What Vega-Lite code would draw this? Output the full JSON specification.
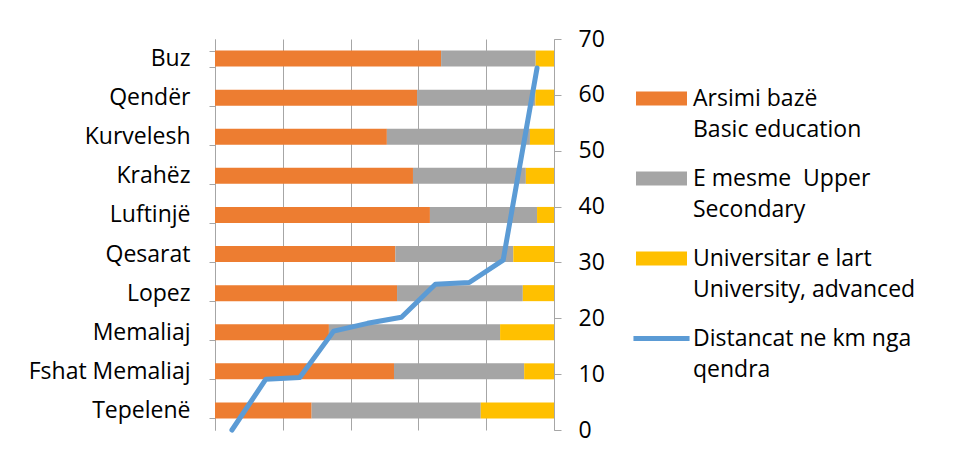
{
  "$schema": "https://vega.github.io/schema/vega-lite/v6.json",
  "width": 339,
  "height": 391,
  "autosize": {"type": "none"},
  "padding": {"left": 215, "top": 39, "right": 399, "bottom": 22},
  "background": "white",
  "config": {
    "font": "Open Sans",
    "view": {"stroke": null},
    "axis": {"labelColor": "#000000", "labelFontSize": 23, "labelFont": "Open Sans"}
  },
  "datasets": {
    "edu": [
      {"place": "Buz", "series": "Arsimi bazë|Basic education", "pct": 66.7},
      {"place": "Buz", "series": "E mesme\u00a0 Upper|Secondary", "pct": 27.9},
      {"place": "Buz", "series": "Universitar e lart|University, advanced", "pct": 5.4},
      {"place": "Qendër", "series": "Arsimi bazë|Basic education", "pct": 59.6},
      {"place": "Qendër", "series": "E mesme\u00a0 Upper|Secondary", "pct": 34.9},
      {"place": "Qendër", "series": "Universitar e lart|University, advanced", "pct": 5.5},
      {"place": "Kurvelesh", "series": "Arsimi bazë|Basic education", "pct": 50.7},
      {"place": "Kurvelesh", "series": "E mesme\u00a0 Upper|Secondary", "pct": 42.2},
      {"place": "Kurvelesh", "series": "Universitar e lart|University, advanced", "pct": 7.1},
      {"place": "Krahëz", "series": "Arsimi bazë|Basic education", "pct": 58.4},
      {"place": "Krahëz", "series": "E mesme\u00a0 Upper|Secondary", "pct": 33.3},
      {"place": "Krahëz", "series": "Universitar e lart|University, advanced", "pct": 8.3},
      {"place": "Luftinjë", "series": "Arsimi bazë|Basic education", "pct": 63.4},
      {"place": "Luftinjë", "series": "E mesme\u00a0 Upper|Secondary", "pct": 31.6},
      {"place": "Luftinjë", "series": "Universitar e lart|University, advanced", "pct": 5.0},
      {"place": "Qesarat", "series": "Arsimi bazë|Basic education", "pct": 53.2},
      {"place": "Qesarat", "series": "E mesme\u00a0 Upper|Secondary", "pct": 34.8},
      {"place": "Qesarat", "series": "Universitar e lart|University, advanced", "pct": 12.0},
      {"place": "Lopez", "series": "Arsimi bazë|Basic education", "pct": 53.7},
      {"place": "Lopez", "series": "E mesme\u00a0 Upper|Secondary", "pct": 37.1},
      {"place": "Lopez", "series": "Universitar e lart|University, advanced", "pct": 9.2},
      {"place": "Memaliaj", "series": "Arsimi bazë|Basic education", "pct": 33.6},
      {"place": "Memaliaj", "series": "E mesme\u00a0 Upper|Secondary", "pct": 50.5},
      {"place": "Memaliaj", "series": "Universitar e lart|University, advanced", "pct": 15.9},
      {"place": "Fshat Memaliaj", "series": "Arsimi bazë|Basic education", "pct": 52.8},
      {"place": "Fshat Memaliaj", "series": "E mesme\u00a0 Upper|Secondary", "pct": 38.4},
      {"place": "Fshat Memaliaj", "series": "Universitar e lart|University, advanced", "pct": 8.8},
      {"place": "Tepelenë", "series": "Arsimi bazë|Basic education", "pct": 28.5},
      {"place": "Tepelenë", "series": "E mesme\u00a0 Upper|Secondary", "pct": 49.9},
      {"place": "Tepelenë", "series": "Universitar e lart|University, advanced", "pct": 21.6}
    ],
    "dist": [
      {"place": "Tepelenë", "km": 0},
      {"place": "Fshat Memaliaj", "km": 9.1},
      {"place": "Memaliaj", "km": 9.4},
      {"place": "Lopez", "km": 17.7},
      {"place": "Qesarat", "km": 19.1},
      {"place": "Luftinjë", "km": 20.2},
      {"place": "Krahëz", "km": 26.1},
      {"place": "Kurvelesh", "km": 26.4},
      {"place": "Qendër", "km": 30.4},
      {"place": "Buz", "km": 64.8}
    ]
  },
  "layer": [
    {
      "data": {"name": "edu"},
      "mark": {"type": "bar"},
      "encoding": {
        "y": {
          "field": "place",
          "type": "nominal",
          "sort": ["Buz", "Qendër", "Kurvelesh", "Krahëz", "Luftinjë", "Qesarat", "Lopez", "Memaliaj", "Fshat Memaliaj", "Tepelenë"],
          "scale": {"paddingInner": 0.59, "paddingOuter": 0.295},
          "axis": {
            "title": null,
            "orient": "left",
            "domainColor": "#a6a6a6",
            "tickColor": "#a6a6a6",
            "tickSize": 6,
            "tickBand": "extent",
            "labelPadding": 19,
            "labelFontSize": 23
          }
        },
        "x": {
          "field": "pct",
          "type": "quantitative",
          "stack": "normalize",
          "axis": {
            "title": null,
            "labels": false,
            "ticks": false,
            "domain": false,
            "grid": true,
            "values": [0, 0.2, 0.4, 0.6, 0.8, 1],
            "gridColor": "#a6a6a6",
            "gridWidth": 1
          }
        },
        "color": {
          "field": "series",
          "type": "nominal",
          "scale": {
            "domain": ["Arsimi bazë|Basic education", "E mesme\u00a0 Upper|Secondary", "Universitar e lart|University, advanced", "Distancat ne km nga|qendra"],
            "range": ["#ED7D31", "#A5A5A5", "#FFC000", "#5B9BD5"]
          },
          "legend": {
            "orient": "none",
            "legendX": 421,
            "legendY": 34,
            "title": null,
            "padding": 0,
            "symbolSize": 2601,
            "symbolStrokeWidth": 0,
            "labelFontSize": 23,
            "labelFont": "Open Sans",
            "labelColor": "#000000",
            "labelLimit": 400,
            "labelOffset": 6,
            "rowPadding": 11,
            "labelExpr": "split((substring(datum.label,0,1) == 'E' ? '\u00a0\u00a0' : substring(datum.label,0,1) == 'D' ? '' : '\u00a0') + datum.label, '|')",
            "encode": {
              "symbols": {
                "update": {
                  "shape": {"signal": "substring(datum.value,0,1) == 'D' ? 'M-1.1,-0.1H1.1V0.1H-1.1Z' : 'M-1,-0.27H1V0.27H-1Z'"},
                  "strokeWidth": {"value": 0}
                }
              },
              "labels": {
                "update": {"lineHeight": {"value": 31}}
              }
            }
          }
        }
      }
    },
    {
      "data": {"name": "dist"},
      "mark": {"type": "line", "color": "#5B9BD5", "strokeWidth": 5, "strokeCap": "round", "strokeJoin": "round"},
      "encoding": {
        "x": {
          "field": "place",
          "type": "nominal",
          "sort": ["Tepelenë", "Fshat Memaliaj", "Memaliaj", "Lopez", "Qesarat", "Luftinjë", "Krahëz", "Kurvelesh", "Qendër", "Buz"],
          "scale": {"type": "point", "padding": 0.5},
          "axis": null
        },
        "y": {
          "field": "km",
          "type": "quantitative",
          "scale": {"domain": [0, 70], "nice": false},
          "axis": {
            "title": null,
            "orient": "right",
            "values": [0, 10, 20, 30, 40, 50, 60, 70],
            "tickSize": 7,
            "labelPadding": 17,
            "domainColor": "#a6a6a6",
            "tickColor": "#a6a6a6",
            "grid": false,
            "labelFontSize": 23
          }
        },
        "order": {"value": null}
      }
    }
  ],
  "resolve": {
    "scale": {"x": "independent", "y": "independent", "color": "independent"},
    "axis": {"x": "independent", "y": "independent"}
  }
}
